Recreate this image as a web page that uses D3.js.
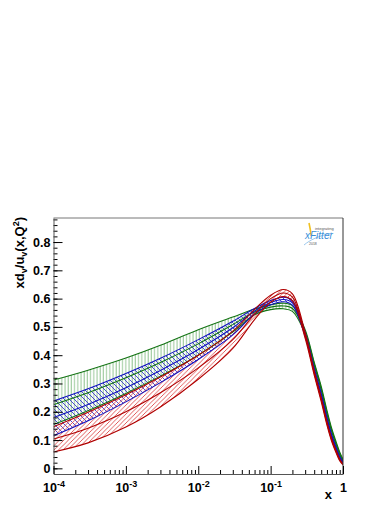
<!DOCTYPE html>
<html>
<head>
<meta charset="utf-8">
<script src="https://cdn.jsdelivr.net/npm/d3@7"></script>
<style>
  body { margin: 0; background: #fff; }
  text { font-family: "Liberation Sans", Arial, sans-serif; }
</style>
</head>
<body>
<div class="chart"></div>
<script>
// xd_v/u_v ratio bands, three fits

var svgWidth = 390;
var svgHeight = 505;

// frame edges in pixels
var frame = { left: 53.5, right: 343, top: 218, bottom: 474 };

// sample points along x
var xValues = [1e-4, 3e-4, 1e-3, 3e-3, 1e-2, 3e-2, 0.06, 0.1, 0.15, 0.2, 0.3, 0.4, 0.5, 0.6, 0.7, 0.8, 0.9, 1];

// green band (vertical hatch)
var greenUp  = [0.312, 0.347, 0.39, 0.435, 0.49, 0.535, 0.563, 0.578, 0.584, 0.575, 0.49, 0.375, 0.29, 0.205, 0.14, 0.095, 0.058, 0.032];
var greenMid = [0.225, 0.267, 0.32, 0.374, 0.44, 0.508, 0.553, 0.57, 0.574, 0.565, 0.483, 0.37, 0.283, 0.198, 0.134, 0.089, 0.053, 0.028];
var greenLo  = [0.155, 0.204, 0.265, 0.326, 0.40, 0.482, 0.543, 0.561, 0.564, 0.555, 0.475, 0.363, 0.276, 0.19, 0.128, 0.083, 0.048, 0.024];

// blue band (\ hatch)
var blueUp  = [0.238, 0.281, 0.335, 0.389, 0.455, 0.52, 0.565, 0.593, 0.605, 0.593, 0.48, 0.355, 0.265, 0.18, 0.118, 0.076, 0.042, 0.022];
var blueMid = [0.18, 0.226, 0.285, 0.346, 0.42, 0.497, 0.556, 0.586, 0.597, 0.585, 0.473, 0.348, 0.258, 0.174, 0.113, 0.071, 0.038, 0.019];
var blueLo  = [0.115, 0.168, 0.235, 0.303, 0.385, 0.472, 0.546, 0.578, 0.589, 0.577, 0.466, 0.341, 0.251, 0.168, 0.108, 0.066, 0.034, 0.016];

// red band (/ hatch)
var redUp  = [0.147, 0.198, 0.26, 0.323, 0.40, 0.485, 0.562, 0.612, 0.632, 0.617, 0.48, 0.345, 0.25, 0.165, 0.104, 0.064, 0.033, 0.016];
var redMid = [0.104, 0.142, 0.20, 0.267, 0.355, 0.455, 0.545, 0.6, 0.62, 0.605, 0.47, 0.337, 0.243, 0.159, 0.099, 0.06, 0.03, 0.014];
var redLo  = [0.058, 0.090, 0.146, 0.217, 0.315, 0.424, 0.526, 0.587, 0.607, 0.592, 0.46, 0.33, 0.236, 0.153, 0.094, 0.056, 0.027, 0.012];

var yTicks = [0, 0.1, 0.2, 0.3, 0.4, 0.5, 0.6, 0.7, 0.8];
var xTicks = [1e-4, 1e-3, 1e-2, 1e-1, 1];

var svg = d3.select(".chart")
  .append("svg")
  .attr("width", svgWidth)
  .attr("height", svgHeight);

var xScale = d3.scaleLog()
  .domain([1e-4, 1])
  .range([frame.left, frame.right]);

var yScale = d3.scaleLinear()
  .domain([-0.02, 0.885])
  .range([frame.bottom, frame.top]);

// hatch patterns
var defs = svg.append("defs");

defs.append("clipPath").attr("id", "clip")
  .append("rect")
  .attr("x", frame.left)
  .attr("y", frame.top)
  .attr("width", frame.right - frame.left)
  .attr("height", frame.bottom - frame.top);

var pg = defs.append("pattern")
  .attr("id", "hatchGreen")
  .attr("patternUnits", "userSpaceOnUse")
  .attr("width", 3.2).attr("height", 10);
pg.append("rect")
  .attr("x", 0.5).attr("y", 0).attr("width", 1).attr("height", 10)
  .attr("fill", "#5aa85a").attr("fill-opacity", 0.65);

function diagPattern(id, color, w, dir) {
  var p = defs.append("pattern")
    .attr("id", id)
    .attr("patternUnits", "userSpaceOnUse")
    .attr("width", w).attr("height", w);
  var d;
  if (dir > 0) {
    d = "M0," + w + "L" + w + ",0M-1,1L1,-1M" + (w - 1) + "," + (w + 1) + "L" + (w + 1) + "," + (w - 1);
  } else {
    d = "M0,0L" + w + "," + w + "M-1," + (w - 1) + "L1," + (w + 1) + "M" + (w - 1) + ",-1L" + (w + 1) + ",1";
  }
  p.append("path")
    .attr("d", d)
    .attr("stroke", color)
    .attr("stroke-width", 0.9)
    .attr("fill", "none");
}
diagPattern("hatchBlue", "#3a3ad0", 5, -1);
diagPattern("hatchRed", "#dd4a4a", 4.5, 1);

var chart = svg.append("g").attr("clip-path", "url(#clip)");

var curve = d3.curveCatmullRom.alpha(0.5);

var area = d3.area()
  .x(function(d) { return xScale(d.x); })
  .y0(function(d) { return yScale(d.lo); })
  .y1(function(d) { return yScale(d.up); })
  .curve(curve);

var line = d3.line()
  .x(function(d) { return xScale(d.x); })
  .y(function(d) { return yScale(d.v); })
  .curve(curve);

var bands = [
  { up: greenUp, mid: greenMid, lo: greenLo, fill: "url(#hatchGreen)", color: "#137313" },
  { up: blueUp, mid: blueMid, lo: blueLo, fill: "url(#hatchBlue)", color: "#1010c0" },
  { up: redUp, mid: redMid, lo: redLo, fill: "url(#hatchRed)", color: "#b00000" }
];

bands.forEach(function(b) {
  var rows = xValues.map(function(x, i) {
    return { x: x, up: b.up[i], lo: b.lo[i] };
  });
  chart.append("path")
    .datum(rows)
    .attr("d", area)
    .attr("fill", b.fill)
    .attr("stroke", "none");
});

bands.forEach(function(b) {
  [b.up, b.mid, b.lo].forEach(function(arr) {
    var pts = xValues.map(function(x, i) { return { x: x, v: arr[i] }; });
    chart.append("path")
      .datum(pts)
      .attr("d", line)
      .attr("fill", "none")
      .attr("stroke", b.color)
      .attr("stroke-width", 1.1);
  });
});

// frame top and right
svg.append("line")
  .attr("x1", frame.left).attr("x2", frame.right)
  .attr("y1", frame.top).attr("y2", frame.top)
  .attr("stroke", "#777").attr("stroke-width", 1);
svg.append("line")
  .attr("x1", frame.right).attr("x2", frame.right)
  .attr("y1", frame.top).attr("y2", frame.bottom)
  .attr("stroke", "#333").attr("stroke-width", 1);

// y axis, ticks inside
var yMinor = d3.range(0, 0.885, 0.02);
svg.append("g")
  .attr("transform", "translate(" + frame.left + ",0)")
  .call(d3.axisLeft(yScale).tickValues(yMinor).tickSize(-4).tickFormat(""))
  .call(function(g) { g.select(".domain").remove(); });

var yAxis = svg.append("g")
  .attr("transform", "translate(" + frame.left + ",0)")
  .call(d3.axisLeft(yScale).tickValues(yTicks).tickSize(-9).tickPadding(3)
    .tickSizeOuter(0)
    .tickFormat(function(d) { return d === 0 ? "0" : d3.format(".1f")(d); }));
yAxis.selectAll(".tick text")
  .attr("font-size", 12.5)
  .attr("font-weight", "bold")
  .attr("font-family", "Liberation Sans, Arial, sans-serif")
  .attr("fill", "#000");
yAxis.select(".domain").attr("stroke", "#555");

// x axis, log ticks inside
var xMinor = [];
[1e-4, 1e-3, 1e-2, 1e-1].forEach(function(dec) {
  for (var k = 2; k <= 9; k++) xMinor.push(dec * k);
});
svg.append("g")
  .attr("transform", "translate(0," + frame.bottom + ")")
  .call(d3.axisBottom(xScale).tickValues(xMinor).tickSize(-4).tickFormat(""))
  .call(function(g) { g.select(".domain").remove(); });

var xAxis = svg.append("g")
  .attr("transform", "translate(0," + frame.bottom + ")")
  .call(d3.axisBottom(xScale).tickValues(xTicks).tickSize(-8).tickPadding(5)
    .tickSizeOuter(0).tickFormat(""));
xAxis.select(".domain").attr("stroke", "#555");

xAxis.selectAll(".tick").each(function(d) {
  var t = d3.select(this).append("text")
    .attr("y", 18)
    .attr("fill", "#000")
    .attr("font-size", 12.5)
    .attr("font-weight", "bold")
    .attr("font-family", "Liberation Sans, Arial, sans-serif")
    .attr("text-anchor", "middle");
  if (d === 1) {
    t.text("1");
  } else {
    t.append("tspan").text("10");
    t.append("tspan")
      .attr("dy", -5)
      .attr("font-size", 9)
      .text(String(Math.round(Math.log10(d))));
  }
});

// axis titles
svg.append("text")
  .attr("x", 332)
  .attr("y", 499)
  .attr("text-anchor", "end")
  .attr("font-size", 13)
  .attr("font-weight", "bold")
  .text("x");

var yTitle = svg.append("text")
  .attr("transform", "translate(24," + (frame.top - 1) + ") rotate(-90)")
  .attr("text-anchor", "end")
  .attr("font-size", 13)
  .attr("font-weight", "bold");
yTitle.append("tspan").text("xd");
yTitle.append("tspan").attr("font-size", 9).attr("dy", 3).text("v");
yTitle.append("tspan").attr("dy", -3).text("/u");
yTitle.append("tspan").attr("font-size", 9).attr("dy", 3).text("v");
yTitle.append("tspan").attr("dy", -3).text("(x,Q");
yTitle.append("tspan").attr("font-size", 9).attr("dy", -5).text("2");
yTitle.append("tspan").attr("dy", 5).text(")");

// small xFitter logo
var logo = svg.append("g");
logo.append("path")
  .attr("d", "M309,223 C310,228 311,232 311,236")
  .attr("stroke", "#f0c020").attr("stroke-width", 1.6).attr("fill", "none");
logo.append("path")
  .attr("d", "M304,245 C310,240 318,236 332,233")
  .attr("stroke", "#9cc8ee").attr("stroke-width", 1).attr("fill", "none");
logo.append("text")
  .attr("x", 315).attr("y", 230)
  .attr("font-size", 4).attr("fill", "#555")
  .text("integrating");
logo.append("text")
  .attr("x", 305).attr("y", 239)
  .attr("font-size", 10).attr("font-style", "italic")
  .attr("fill", "#3a8fd8")
  .text("xFitter");
logo.append("text")
  .attr("x", 309).attr("y", 245)
  .attr("font-size", 3.5).attr("fill", "#555")
  .text("2018");
</script>
</body>
</html>
